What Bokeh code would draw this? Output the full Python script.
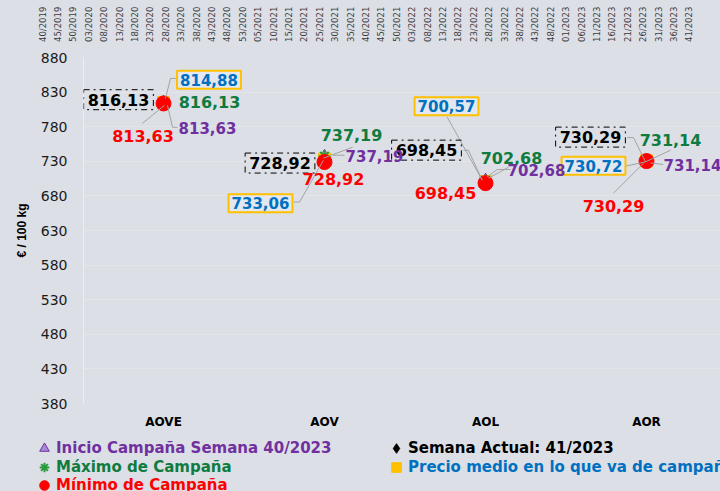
from math import pi
from bokeh.plotting import figure
from bokeh.models import Label, Range1d, FixedTicker, Legend, LegendItem
from bokeh.layouts import column
from bokeh.core.properties import value
from bokeh.embed import file_html
from bokeh.resources import INLINE

# ---------------- data ----------------
categories = ["AOVE", "AOV", "AOL", "AOR"]
inicio_campana = [813.63, 737.19, 702.68, 731.14]
semana_actual = [816.13, 728.92, 698.45, 730.29]
maximo_campana = [816.13, 737.19, 702.68, 731.14]
precio_medio = [814.88, 733.06, 700.57, 730.72]
minimo_campana = [813.63, 728.92, 698.45, 730.29]
y_ticks = [380, 430, 480, 530, 580, 630, 680, 730, 780, 830, 880]
week_labels = ["40/2019", "45/2019", "50/2019", "03/2020", "08/2020", "13/2020", "18/2020",
               "23/2020", "28/2020", "33/2020", "38/2020", "43/2020", "48/2020", "53/2020",
               "05/2021", "10/2021", "15/2021", "20/2021", "25/2021", "30/2021", "35/2021",
               "40/2021", "45/2021", "50/2021", "03/2022", "08/2022", "13/2022", "18/2022",
               "23/2022", "28/2022", "33/2022", "38/2022", "43/2022", "48/2022", "01/2023",
               "06/2023", "11/2023", "16/2023", "21/2023", "26/2023", "31/2023", "36/2023",
               "41/2023"]
legend_inicio = "Inicio Campaña Semana 40/2023"
legend_actual = "Semana Actual: 41/2023"
legend_max = "Máximo de Campaña"
legend_medio = "Precio medio en lo que va de campaña"
legend_min = "Mínimo de Campaña"
y_title = "€ / 100 kg"

# ---------------- layout / style ----------------
BG = "#dcdfe6"
FONT = "DejaVu Sans"
W = 720
TOP_H = 46
MAIN_H = 385
LEG_H = 491 - TOP_H - MAIN_H
B_LEFT, B_TOP, B_BOTTOM = 83, 11, 27
FRAME_W = W - B_LEFT
FRAME_H = MAIN_H - B_TOP - B_BOTTOM
CAT_STEP = 161.0
CAT_FIRST = 80.0
x_start = -CAT_FIRST / CAT_STEP
x_end = x_start + FRAME_W / CAT_STEP
Y0, Y1 = y_ticks[0], y_ticks[-1]
PX_Y = FRAME_H / (Y1 - Y0)

C_PURPLE = "#7030a0"
C_GREEN = "#0f7b3e"
C_RED = "#ff0000"
C_BLUE = "#0070c0"
C_YELLOW = "#ffc000"
C_LEAD = "#a3a3a3"

xs = list(range(len(categories)))


def base_fig(h, **kw):
    f = figure(width=W, height=h, output_backend="svg", toolbar_location=None,
               frame_align=False, **kw)
    f.background_fill_color = BG
    f.border_fill_color = BG
    f.outline_line_color = None
    return f


# ---------------- top week labels ----------------
WK_STEP = 15.4
WK_FIRST = 42.0
WK_BASE = 4.5
ptop = base_fig(TOP_H, x_range=Range1d(-WK_FIRST / WK_STEP, (W - WK_FIRST) / WK_STEP),
                y_range=Range1d(0, TOP_H), x_axis_location=None, y_axis_location=None,
                min_border=0)
ptop.grid.visible = False
wk_x = list(range(len(week_labels)))
ptop.text(x=wk_x, y=[WK_BASE] * len(week_labels), text=week_labels, angle=pi / 2,
          text_align="left", text_baseline="middle", text_font=value(FONT),
          text_font_size="8.5px", text_color="#3c3c3c")

# ---------------- main chart ----------------
p = base_fig(MAIN_H, x_range=Range1d(x_start, x_end), y_range=Range1d(Y0, Y1),
             min_border_left=B_LEFT, min_border_right=0, min_border_top=B_TOP,
             min_border_bottom=B_BOTTOM)
p.xgrid.visible = False
p.ygrid.ticker = FixedTicker(ticks=y_ticks)
p.ygrid.grid_line_color = "#e3e5ea"

xa = p.xaxis[0]
xa.ticker = FixedTicker(ticks=xs)
xa.major_label_overrides = {i: c for i, c in enumerate(categories)}
xa.major_label_text_font = FONT
xa.major_label_text_font_style = "bold"
xa.major_label_text_font_size = "12px"
xa.major_label_text_color = "#000000"
xa.major_label_standoff = 11
xa.major_tick_out = 0
xa.major_tick_in = 0
xa.minor_tick_out = 0
xa.minor_tick_in = 0
xa.major_tick_line_color = None
xa.minor_tick_line_color = None
xa.axis_line_color = None

ya = p.yaxis[0]
ya.ticker = FixedTicker(ticks=y_ticks)
ya.major_label_text_font = FONT
ya.major_label_text_font_size = "14px"
ya.major_label_text_color = "#1a1a1a"
ya.major_label_standoff = 16
ya.major_tick_out = 0
ya.major_tick_in = 0
ya.minor_tick_out = 0
ya.minor_tick_in = 0
ya.major_tick_line_color = None
ya.minor_tick_line_color = None
ya.axis_line_color = "#eceef2"
ya.axis_label = y_title
ya.axis_label_text_font = "Liberation Sans"
ya.axis_label_text_font_style = "bold"
ya.axis_label_text_font_size = "12px"
ya.axis_label_text_color = "#000000"
ya.axis_label_standoff = 9

# marker styles
st_inicio = dict(marker="triangle", fill_color="#a58ad8", line_color=C_PURPLE, line_width=1)
st_actual = dict(marker="diamond", fill_color="#000000", line_color="#000000")
st_medio = dict(marker="square", fill_color=C_YELLOW, line_color=C_YELLOW)
st_max = dict(marker="asterisk", line_color="#2a9a3a", line_width=2)
st_min = dict(marker="circle", fill_color=C_RED, line_color=C_RED)

p.scatter(xs, inicio_campana, size=12, **st_inicio)
p.scatter(xs, semana_actual, size=12, **st_actual)
p.scatter(xs, precio_medio, size=12, **st_medio)
p.scatter(xs, maximo_campana, size=12, **st_max)
p.scatter(xs, minimo_campana, size=15, **st_min)

# leader lines (pixel offsets relative to the "precio medio" point of each category)
leaders = {
    0: [[(2, -4.2), (7, -24.2), (13, -24.2)],
        [(4, 2.8), (9, 24.8), (14, 24.8)],
        [(1, 2.8), (-21, 20.8)]],
    1: [[(-1, -1), (28, -12)],
        [(8, -4), (20, -4)],
        [(-1, 1), (-25, 43), (-31, 43)]],
    2: [[(-38.3, -64.8), (-3.3, -1.5)],
        [(-22, -31.5), (-17, -31.5), (-3.3, -1.5)],
        [(1.7, -4.8), (11.7, -12.2), (25, -12.2)],
        [(3, -3.5), (23, -14.5)]],
    3: [[(-19.3, -23.3), (-13, -23.3), (-1, 1.1)],
        [(-1, 1.1), (24, -10.6)],
        [(4, 2.1), (16.7, 3.7)],
        [(-21, 5.4), (-1, 1.1)],
        [(-3, 2.4), (-33, 32.4)]],
}
lx, ly = [], []
for i, segs in leaders.items():
    for seg in segs:
        lx.append([i + dx / CAT_STEP for dx, dy in seg])
        ly.append([precio_medio[i] - dy / PX_Y for dx, dy in seg])
p.multi_line(lx, ly, line_color=C_LEAD, line_width=1)


def fmt(v):
    return f"{v:.2f}".replace(".", ",")


# label offsets (dx, dy) in pixels, dy positive = down
off_actual = [(-45, -2), (-44.5, 1), (-59, -33), (-56, -24)]
off_medio = [(45.5, -22.7), (-64, 44), (-39, -75.5), (-53, 5)]
off_max = [(46, 0), (27, -21), (26, -22), (24, -21)]
off_inicio = [(44, 25), (50, 0), (51, -10), (46, 4)]
off_min = [(-20.5, 33), (9, 17), (-40, 10), (-33, 45)]


def add_labels(vals, offs, color, size, sx=0, sy=0, **box):
    for i, (v, (dx, dy)) in enumerate(zip(vals, offs)):
        p.add_layout(Label(x=i, y=v, text=fmt(v), x_offset=dx + sx, y_offset=-(dy + sy),
                           text_align="center", text_baseline="middle",
                           text_font=FONT, text_font_style="bold",
                           text_font_size=size, text_color=color, **box))


add_labels(semana_actual, off_actual, "#000000", "16px",
           border_line_color="#000000", border_line_dash="dashdot",
           border_line_width=1, padding=4)
# shadow of the boxed average-price labels
add_labels(precio_medio, off_medio, C_BLUE, "15px", sx=2, sy=2, text_alpha=0,
           background_fill_color="#9aa0aa", background_fill_alpha=0.6, padding=3)
add_labels(precio_medio, off_medio, C_BLUE, "15px",
           border_line_color=C_YELLOW, border_line_width=2,
           background_fill_color="#e3e7ef", padding=3)
add_labels(maximo_campana, off_max, C_GREEN, "16px")
add_labels(inicio_campana, off_inicio, C_PURPLE, "15px")
add_labels(minimo_campana, off_min, C_RED, "16px")

# ---------------- legend strip ----------------
# the series are re-plotted here far outside this strip's visible range; they only
# serve as legend glyph sources
pleg = base_fig(LEG_H, x_range=Range1d(0, W), y_range=Range1d(0, LEG_H),
                x_axis_location=None, y_axis_location=None, min_border=0)
pleg.grid.visible = False
GL = 24


def add_legend(label, vals, style, color, left, center):
    r = pleg.scatter(xs, vals, size=10, **style)
    leg = Legend(items=[LegendItem(label=label, renderers=[r])],
                 location=(left, LEG_H - GL - (center - GL / 2)),
                 orientation="vertical",
                 background_fill_alpha=0, border_line_alpha=0,
                 padding=0, margin=0, spacing=0, label_standoff=0,
                 glyph_width=GL, glyph_height=GL, label_height=GL,
                 label_text_font=FONT, label_text_font_style="bold",
                 label_text_font_size="15px", label_text_color=color,
                 label_text_baseline="middle")
    pleg.add_layout(leg, "center")


top0 = TOP_H + MAIN_H
add_legend(legend_inicio, inicio_campana, st_inicio, C_PURPLE, 32, 448 - top0)
add_legend(legend_max, maximo_campana, st_max, C_GREEN, 32, 467 - top0)
add_legend(legend_min, minimo_campana, st_min, C_RED, 32, 485 - top0)
add_legend(legend_actual, semana_actual, st_actual, "#000000", 384, 448 - top0)
add_legend(legend_medio, precio_medio, st_medio, C_BLUE, 384, 467 - top0)

layout = column(ptop, p, pleg, spacing=0, styles={"background-color": BG})
open("out.html", "w").write(file_html(layout, INLINE))
